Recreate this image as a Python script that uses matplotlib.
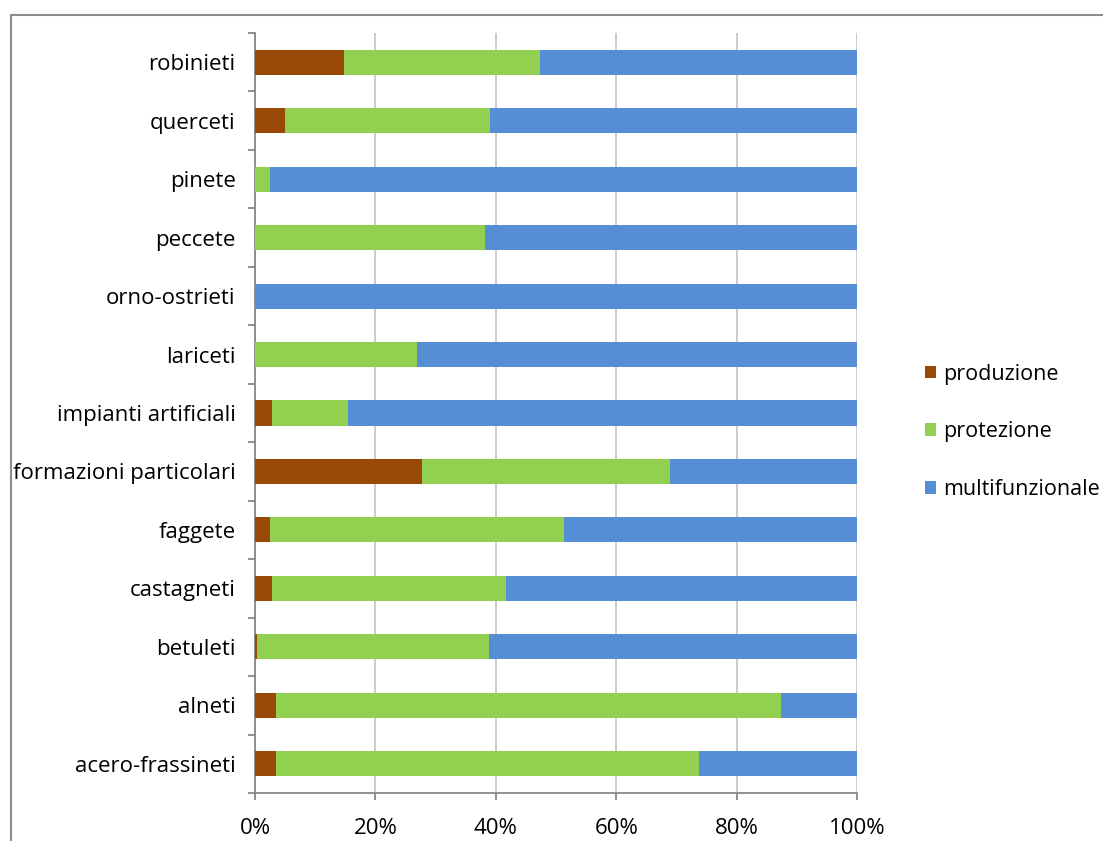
import numpy as np
import matplotlib.pyplot as plt
from matplotlib.patches import Patch, Rectangle

categorie = ['acero-frassineti', 'alneti', 'betuleti', 'castagneti', 'faggete',
             'formazioni particolari', 'impianti artificiali', 'lariceti',
             'orno-ostrieti', 'peccete', 'pinete', 'querceti', 'robinieti']
produzione = [3.5, 3.5, 0.3, 2.8, 2.5, 27.7, 2.8, 0.0, 0.0, 0.0, 0.0, 5.0, 14.8]
protezione = [70.3, 83.9, 38.6, 38.9, 48.8, 41.2, 12.6, 26.9, 0.0, 38.2, 2.5, 34.0, 32.5]
multifunzionale = [26.2, 12.6, 61.1, 58.3, 48.7, 31.1, 84.6, 73.1, 100.0, 61.8, 97.5, 61.0, 52.7]

serie = ['produzione', 'protezione', 'multifunzionale']
colori = ['#984807', '#92D050', '#558ED5']

plt.rcParams['font.family'] = ['Open Sans', 'DejaVu Sans']
fs = 16

fig = plt.figure(figsize=(11.03, 8.41), dpi=100)
ax = fig.add_axes([255 / 1103, 48 / 841, 602 / 1103, 760 / 841])

# cornice esterna del grafico
fig.patches.append(Rectangle((11 / 1103, -0.1), 1.2, (841 - 15) / 841 + 0.1,
                             transform=fig.transFigure, fill=False,
                             edgecolor='#8c8c8c', linewidth=1.5))

y = np.arange(len(categorie))
dati = np.array([produzione, protezione, multifunzionale])
tot = dati.sum(axis=0)
perc = dati / tot * 100
sinistra = np.zeros(len(categorie))
for valori, nome, col in zip(perc, serie, colori):
    ax.barh(y, valori, left=sinistra, height=0.43, color=col, label=nome, zorder=3)
    sinistra += valori

ax.set_xlim(0, 100)
ax.set_ylim(-0.5, len(categorie) - 0.5)
ax.set_xticks(np.arange(0, 101, 20))
ax.set_xticklabels([f'{v}%' for v in range(0, 101, 20)])
ax.set_yticks(y)
ax.set_yticklabels(categorie)
ax.set_yticks(np.arange(-0.5, len(categorie)), minor=True)

ax.grid(axis='x', color='#c8c8c8', linewidth=1.3, zorder=0)
for s in ['top', 'right']:
    ax.spines[s].set_visible(False)
for s in ['left', 'bottom']:
    ax.spines[s].set_color('#888888')
    ax.spines[s].set_linewidth(1.3)

ax.tick_params(axis='y', which='major', length=0, pad=14, labelsize=fs)
ax.tick_params(axis='y', which='minor', length=5, color='#888888', width=1.3)
ax.tick_params(axis='x', length=5, color='#888888', width=1.3, pad=13, labelsize=fs)

maniglie = [Patch(facecolor=c, label=n) for n, c in zip(serie, colori)]
fig.legend(handles=maniglie, loc='upper left', bbox_to_anchor=(916 / 1103, 1 - 355 / 841),
           frameon=False, fontsize=15.5, handlelength=0.55, handleheight=0.55,
           handletextpad=0.3, labelspacing=1.7, borderaxespad=0)

fig.savefig('out.png', dpi=100)
